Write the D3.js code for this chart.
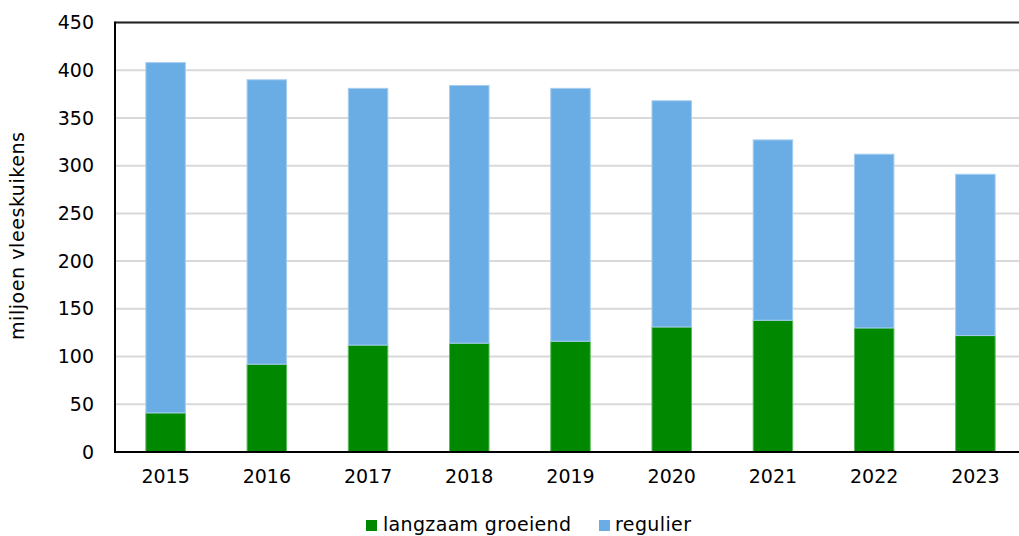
<!DOCTYPE html>
<html><head><meta charset="utf-8">
<script src="https://cdn.jsdelivr.net/npm/d3@7"></script>
<style>body{margin:0;background:#fff;overflow:hidden}svg{display:block}text{font-family:"DejaVu Sans",Verdana,sans-serif;fill:#000}</style>
</head><body><svg id="c" width="1019" height="536"></svg>
<script>
const years = ["2015","2016","2017","2018","2019","2020","2021","2022","2023"];
const langzaam = [41, 92, 112, 114, 116, 131, 138, 130, 122];
const regulier = [367, 298, 269, 270, 265, 237, 189, 182, 169];
const yTicks = [0,50,100,150,200,250,300,350,400,450];
const seriesNames = ["langzaam groeiend","regulier"];
const colors = ["#008800","#6aade4"];
const strokes = ["#5cb85c","#a6cdf0"];

const svg = d3.select("#c");
const L = 115, R = 1026, T = 22.5, B = 452;
const x = d3.scaleBand().domain(years).range([L, R]).paddingInner(0.6).paddingOuter(0.3);
const y = d3.scaleLinear().domain([0,450]).range([B, T]);

// gridlines
svg.append("g").selectAll("line").data(yTicks.filter(d=>d>0)).join("line")
  .attr("x1", L).attr("x2", 1019).attr("y1", d=>y(d)).attr("y2", d=>y(d))
  .attr("stroke", "#d9d9d9").attr("stroke-width", 2);

const data = years.map((yr,i)=>({year:yr, langzaam:langzaam[i], regulier:regulier[i]}));
const stack = d3.stack().keys(["langzaam","regulier"])(data);
svg.append("g").selectAll("g").data(stack).join("g")
  .attr("fill", (d,i)=>colors[i]).attr("stroke", (d,i)=>strokes[i]).attr("stroke-width", 1)
  .selectAll("rect").data(d=>d).join("rect")
  .attr("x", d=>x(d.data.year)+0.5).attr("width", x.bandwidth()-1)
  .attr("y", d=>y(d[1])).attr("height", d=>y(d[0])-y(d[1]));

// axes lines
svg.append("line").attr("x1",L).attr("x2",1019).attr("y1",T).attr("y2",T).attr("stroke","#222").attr("stroke-width",2);
svg.append("line").attr("x1",L).attr("x2",L).attr("y1",T-1).attr("y2",B+1).attr("stroke","#000").attr("stroke-width",2);
svg.append("line").attr("x1",L-1).attr("x2",1019).attr("y1",B).attr("y2",B).attr("stroke","#000").attr("stroke-width",2);

// y tick labels
const yAxis = d3.axisLeft(y).tickValues(yTicks).tickSize(0).tickPadding(0);
const ga = svg.append("g").attr("transform",`translate(${L-21},0)`).call(yAxis);
ga.select(".domain").remove();
ga.selectAll("text").style("font-size","19px").style("font-family",'"DejaVu Sans",Verdana,sans-serif').attr("fill","#000");

// x labels
const xAxis = d3.axisBottom(x).tickSize(0).tickPadding(0);
const gx = svg.append("g").attr("transform",`translate(0,${B+17})`).call(xAxis);
gx.select(".domain").remove();
gx.selectAll("text").style("font-size","19px").style("font-family",'"DejaVu Sans",Verdana,sans-serif').attr("fill","#000");

// y label
svg.append("text").attr("transform","translate(24,236) rotate(-90)").attr("text-anchor","middle")
  .attr("textLength",208).attr("lengthAdjust","spacing")
  .style("font-size","19px").text("miljoen vleeskuikens");

// legend
const leg = [{x:366, tx:383, w:188},{x:599, tx:615, w:76}];
seriesNames.forEach((n,i)=>{
  svg.append("rect").attr("x",leg[i].x).attr("y",520).attr("width",11).attr("height",11).attr("fill",colors[i]);
  svg.append("text").attr("x",leg[i].tx).attr("y",531).attr("textLength",leg[i].w).attr("lengthAdjust","spacing")
    .style("font-size","19px").text(n);
});
</script></body></html>
